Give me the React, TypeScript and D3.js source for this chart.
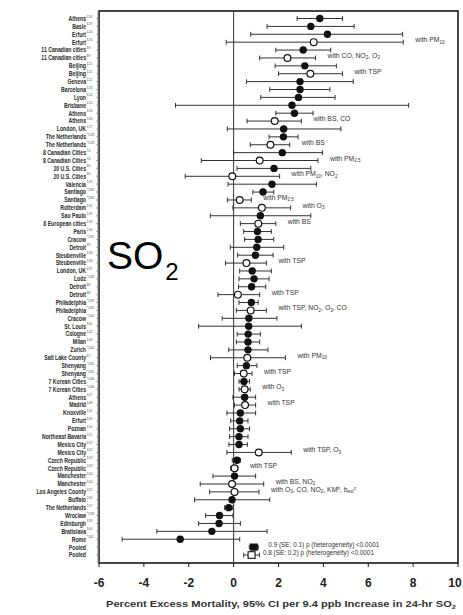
import * as d3 from "d3"

// rows, top to bottom
const labels = [
  "Athens", "Basle", "Erfurt", "Erfurt", "11 Canadian cities", "11 Canadian cities", "Beijing", "Beijing",
  "Geneva", "Barcelona", "Lyon", "Brisbane", "Athens", "Athens", "London, UK", "The Netherlands",
  "The Netherlands", "8 Canadian Cities", "8 Canadian Cities", "20 U.S. Cities", "20 U.S. Cities", "Valencia",
  "Santiago", "Santiago", "Rotterdam", "Sao Paulo", "8 European cities", "Paris", "Cracow", "Detroit",
  "Steubenville", "Steubenville", "London, UK", "Lodz", "Detroit", "Detroit", "Philadelphia", "Philadelphia",
  "Cracow", "St. Louis", "Cologne", "Milan", "Zurich", "Salt Lake County", "Shenyang", "Shenyang",
  "7 Korean Cities", "7 Korean Cities", "Athens", "Madrid", "Knoxville", "Erfurt", "Poznan", "Northeast Bavaria",
  "Mexico City", "Mexico City", "Czech Republic", "Czech Republic", "Manchester", "Manchester",
  "Los Angeles County", "Buffalo", "The Netherlands", "Wroclaw", "Edinburgh", "Bratislava", "Rome", "Pooled", "Pooled",
]

// reference superscripts (barely legible in the source)
const refs = [
  "118", "119", "120", "120", "69", "69", "121", "121", "122", "123", "124", "125", "126", "126", "127", "*128",
  "*128", "70", "70", "46", "46", "129", "*130", "*130", "131", "132", "133", "134", "*135", "85", "136", "136",
  "137", "*138", "86", "86", "*139", "*139", "*140", "141", "142", "143", "*144", "67", "*145", "*145", "*146",
  "*146", "147", "148", "141", "149", "150", "151", "152", "152", "153", "153", "154", "154", "155", "156", "157",
  "*158", "159", "160", "*161", "", "",
]

const estimates = [
  3.84, 3.44, 4.18, 3.57, 3.1, 2.4, 3.17, 3.42, 2.96, 2.96, 2.89, 2.6, 2.71, 1.83, 2.23, 2.22, 1.64, 2.17, 1.16,
  1.8, -0.06, 1.71, 1.31, 0.27, 1.26, 1.19, 1.1, 1.06, 1.09, 1.03, 0.97, 0.57, 0.83, 0.91, 0.8, 0.19, 0.79, 0.76,
  0.68, 0.67, 0.65, 0.64, 0.64, 0.61, 0.57, 0.45, 0.46, 0.49, 0.49, 0.51, 0.3, 0.27, 0.3, 0.24, 0.24, 1.12, 0.15,
  0.04, 0.04, -0.07, 0.04, -0.07, -0.22, -0.63, -0.65, -0.97, -2.38, 0.9, 0.8,
]

const lower = [
  2.83, 1.49, 0.76, -0.33, 1.88, 1.16, 1.85, 2.0, 0.57, 1.61, 1.21, -2.59, 1.88, 0.6, -0.28, 1.58, 0.74, 0.0, -1.44,
  0.15, -2.16, -0.25, 0.86, -0.28, -0.03, -1.04, 0.3, 0.45, 0.49, -0.15, 0.18, -0.36, 0.27, 0.24, 0.22, -0.7, 0.24,
  0.12, -0.51, -1.56, 0.16, 0.12, -0.22, -1.03, 0.16, 0.04, 0.24, 0.24, -0.03, 0.04, -0.3, -0.13, -0.18, -0.18,
  -0.21, -0.3, -0.06, -0.13, -0.92, -1.49, -1.07, -1.74, -0.4, -1.25, -1.56, -3.42, -4.97, 0.7, 0.45,
]

const upper = [
  4.85, 5.37, 7.53, 7.56, 4.33, 3.65, 4.58, 4.85, 5.33, 4.29, 4.52, 7.8, 3.54, 3.02, 4.78, 2.87, 2.5, 3.96, 3.76,
  3.44, 2.05, 3.69, 1.79, 0.79, 2.54, 3.44, 1.88, 1.68, 1.79, 2.23, 1.76, 1.46, 1.68, 1.58, 1.43, 1.16, 1.09, 1.46,
  1.93, 3.02, 1.19, 1.16, 1.53, 2.31, 1.04, 0.82, 0.71, 0.74, 0.98, 0.98, 0.98, 0.64, 0.71, 0.64, 0.61, 2.57, 0.3,
  0.19, 0.98, 1.34, 1.13, 1.61, -0.06, -0.03, 0.3, 1.49, 0.27, 1.1, 1.15,
]

// f = filled circle, o = open circle, F = filled square, O = open square
const markers = [
  "f", "f", "f", "o", "f", "o", "f", "o", "f", "f", "f", "f", "f", "o", "f", "f", "o", "f", "o", "f", "o", "f",
  "f", "o", "o", "f", "o", "f", "f", "f", "f", "o", "f", "f", "f", "o", "f", "o", "f", "f", "f", "f", "f", "o",
  "f", "o", "f", "o", "f", "o", "f", "f", "f", "f", "f", "o", "f", "o", "f", "o", "o", "f", "f", "f", "f", "f",
  "f", "F", "O",
]

// ~sub~  ^sup^
const notes: Record<number, string> = {
  3: "with PM~10~",
  5: "with CO, NO~2~, O~3~",
  7: "with TSP",
  13: "with BS, CO",
  16: "with BS",
  18: "with PM~2.5~",
  20: "with PM~10~, NO~2~",
  23: "with PM~2.5~",
  24: "with O~3~",
  26: "with BS",
  31: "with TSP",
  35: "with TSP",
  37: "with TSP, NO~2~, O~3~, CO",
  43: "with PM~10~",
  45: "with TSP",
  47: "with O~3~",
  49: "with TSP",
  55: "with TSP, O~3~",
  57: "with TSP",
  59: "with BS, NO~2~",
  60: "with O~3~, CO, NO~2~, KM^b^, b~ext~^c^",
  67: "0.9 (SE: 0.1) p (heterogeneity) <0.0001",
  68: "0.8 (SE: 0.2) p (heterogeneity) <0.0001",
}

const tickValues = [-6, -4, -2, 0, 2, 4, 6, 8, 10]
const axisTitle = "Percent Excess Mortality, 95% CI per 9.4 ppb Increase in 24-hr SO~2~"

function Rich({ text, size }: { text: string; size: number }) {
  const parts = text.split(/(~[^~]*~|\^[^^]*\^)/).filter(Boolean)
  let shift = 0
  const out = parts.map((p, i) => {
    let target = 0
    let content = p
    let fs = size
    if (p.startsWith("~")) {
      target = size * 0.22
      content = p.slice(1, -1)
      fs = size * 0.68
    } else if (p.startsWith("^")) {
      target = -size * 0.3
      content = p.slice(1, -1)
      fs = size * 0.68
    }
    const dy = target - shift
    shift = target
    return (
      <tspan key={i} dy={dy} fontSize={fs}>
        {content}
      </tspan>
    )
  })
  return <>{out}</>
}

export default function App() {
  const width = 463
  const height = 615
  const top = 11
  const bottom = 563

  const x = d3.scaleLinear().domain([-6, 10]).range([99, 458])
  const y = d3
    .scalePoint<number>()
    .domain(d3.range(labels.length))
    .range([18.5, 555])

  const ink = "#1a1a1a"
  const font = "'Liberation Sans', Arial, sans-serif"

  return (
    <svg
      width={width}
      height={height}
      style={{ position: "absolute", left: 0, top: 0, background: "#fff" }}
      fontFamily={font}
    >
      <rect x={0} y={0} width={width} height={height} fill="#fff" />

      {/* plot frame */}
      <rect
        x={x(-6)}
        y={top}
        width={x(10) - x(-6)}
        height={bottom - top}
        fill="none"
        stroke={ink}
        strokeWidth={1.6}
      />
      <line x1={x(-6) - 1} x2={x(-6) - 1} y1={top} y2={bottom} stroke="#888" strokeWidth={1} />

      {/* zero line */}
      <line x1={x(0)} x2={x(0)} y1={top} y2={bottom} stroke="#333" strokeWidth={1} />

      {/* row labels (condensed) */}
      {labels.map((l, i) => (
        <g key={"lab" + i}>
          <g transform={`translate(86,${y(i)}) scale(0.76,1)`}>
            <text x={0} y={0} dy="0.35em" textAnchor="end" fontSize={6.8} fontWeight={700} fill="#2a2a2a">
              {l}
            </text>
          </g>
          {refs[i] && (
            <text x={86.5} y={y(i)! - 1} fontSize={3.6} fill="#555">
              {refs[i]}
            </text>
          )}
        </g>
      ))}

      {/* left tick marks per row */}
      {labels.map((_, i) => (
        <line key={"rt" + i} x1={x(-6) - 3} x2={x(-6)} y1={y(i)!} y2={y(i)!} stroke="#777" strokeWidth={0.6} />
      ))}

      {/* CIs and markers */}
      {estimates.map((e, i) => {
        const cy = y(i)!
        const m = markers[i]
        return (
          <g key={"pt" + i}>
            <line x1={x(lower[i])} x2={x(upper[i])} y1={cy} y2={cy} stroke="#333" strokeWidth={1} />
            <line x1={x(lower[i])} x2={x(lower[i])} y1={cy - 2.4} y2={cy + 2.4} stroke="#333" strokeWidth={1} />
            <line x1={x(upper[i])} x2={x(upper[i])} y1={cy - 2.4} y2={cy + 2.4} stroke="#333" strokeWidth={1} />
            {m === "f" && <circle cx={x(e)} cy={cy} r={3.7} fill="#111" />}
            {m === "o" && <circle cx={x(e)} cy={cy} r={3.4} fill="#fff" stroke="#111" strokeWidth={1.2} />}
            {m === "F" && <rect x={x(e) - 4} y={cy - 3.6} width={8} height={7.2} fill="#111" />}
            {m === "O" && (
              <rect x={x(e) - 3.5} y={cy - 3.3} width={7} height={6.6} fill="#fff" stroke="#111" strokeWidth={1.1} />
            )}
          </g>
        )
      })}

      {/* annotations */}
      {Object.entries(notes).map(([k, t]) => {
        const i = +k
        const m = markers[i]
        const pooled = m === "F" || m === "O"
        const off = m === "F" ? 10 : m === "O" ? 3.5 : 12
        const fs = pooled ? 6.4 : 6.8
        return (
          <text key={"n" + k} x={x(upper[i]) + off} y={y(i)!} dy="0.33em" fontSize={fs} fill="#333">
            <Rich text={t} size={fs} />
          </text>
        )
      })}

      {/* SO2 label */}
      <text x={107} y={269} fontSize={39} fill="#000" fontFamily={font}>
        SO
        <tspan dy={11} dx={2} fontSize={24}>
          2
        </tspan>
      </text>

      {/* x axis */}
      {tickValues.map((t) => (
        <g key={"t" + t}>
          <line x1={x(t)} x2={x(t)} y1={bottom} y2={bottom + 4} stroke={ink} strokeWidth={1} />
          <text
            x={t === 10 ? x(t) - 3 : x(t)}
            y={587}
            textAnchor="middle"
            fontSize={12}
            fontWeight={700}
            fill="#222"
          >
            {t}
          </text>
        </g>
      ))}

      <text
        x={281}
        y={607}
        textAnchor="middle"
        fontSize={8.8}
        fontWeight={700}
        fill="#333"
        textLength={350}
        lengthAdjust="spacingAndGlyphs"
      >
        <Rich text={axisTitle} size={8.8} />
      </text>
    </svg>
  )
}
